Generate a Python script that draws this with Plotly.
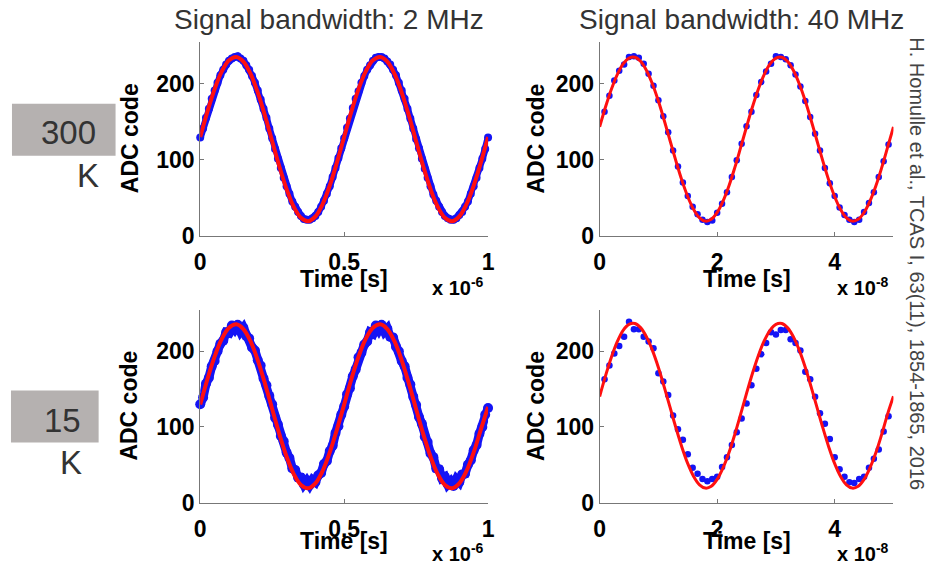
import plotly.graph_objects as go

W, H = 933, 568

# ---------------- data ----------------
# 2 MHz tone, sampled every 10 ns (indices 0..100), time in seconds
dt_2mhz = 10e-9
adc_2mhz_300k = [129, 141, 155, 167, 180, 191, 201, 211, 218, 225, 230, 233, 235, 236, 233, 230, 224, 218, 210, 201,
                 191, 179, 167, 155, 141, 128, 114, 101, 89, 76, 65, 55, 45, 38, 31, 26, 22, 21, 21, 23,
                 26, 31, 38, 46, 55, 65, 77, 89, 102, 115,
                 128, 142, 154, 168, 180, 190, 201, 210, 218, 224, 230, 234, 235, 235, 233, 229, 225, 218, 211, 201,
                 191, 180, 167, 154, 141, 127, 115, 101, 88, 76, 65, 54, 46, 38, 31, 26, 23, 21, 21, 23,
                 27, 31, 38, 45, 55, 65, 76, 89, 101, 114, 129]
adc_2mhz_15k = [130, 139, 157, 165, 180, 187, 200, 210, 214, 225, 224, 234, 229, 235, 226, 231, 220, 217, 205, 201,
                188, 181, 164, 155, 141, 130, 112, 103, 88, 81, 66, 59, 45, 43, 33, 33, 24, 29, 23, 30,
                27, 36, 39, 51, 55, 68, 75, 92, 101, 116,
                127, 143, 151, 167, 176, 192, 198, 209, 213, 225, 223, 234, 228, 235, 226, 230, 219, 218, 206, 200,
                187, 180, 165, 156, 140, 129, 113, 104, 87, 80, 65, 60, 45, 44, 32, 34, 24, 28, 22, 31,
                27, 37, 38, 50, 56, 69, 76, 91, 100, 116, 125]
# sine fits for 2 MHz, every 25 ns
dt_fit_2mhz = 25e-9
fit_2mhz_300k = [129.8, 163.1, 192.7, 216.0, 230.6, 235.0, 228.8, 212.7, 188.2, 157.7, 124.2, 91.0, 61.3, 38.0,
                 23.5, 19.0, 25.2, 41.3, 65.8, 96.3,
                 129.8, 163.1, 192.7, 216.0, 230.6, 235.0, 228.8, 212.7, 188.2, 157.7, 124.2, 91.0, 61.3, 38.0,
                 23.5, 19.0, 25.2, 41.3, 65.8, 96.3, 129.8]
fit_2mhz_15k = [129.5, 163.0, 192.8, 216.3, 231.0, 235.6, 229.3, 212.9, 188.0, 157.2, 123.6, 90.4, 60.8, 37.6,
                23.2, 18.9, 25.4, 41.7, 66.3, 96.8,
                129.5, 163.0, 192.8, 216.3, 231.0, 235.6, 229.3, 212.9, 188.0, 157.2, 123.6, 90.4, 60.8, 37.6,
                23.2, 18.9, 25.4, 41.7, 66.3, 96.8, 126.5]

# 40 MHz tone, 1.2 GS/s samples (indices 1..60)
dt_40mhz = 1e-9 / 1.2
adc_40mhz_300k = [163, 184, 204, 217, 225, 235, 236, 234, 226, 213, 197, 178, 157, 136, 112, 91, 70, 52, 38, 28,
                  21, 18, 20, 30, 42, 57, 77, 99, 121, 144,
                  163, 185, 202, 216, 226, 236, 235, 232, 224, 212, 196, 177, 156, 134, 112, 89, 69, 52, 37, 27,
                  21, 18, 21, 31, 43, 57, 77, 98, 120, 143]
adc_40mhz_15k = [163, 181, 197, 207, 219, 239, 229, 229, 219, 213, 204, 171, 160, 142, 115, 97, 83, 64, 46, 38,
                 31, 28, 31, 34, 47, 60, 76, 93, 111, 131,
                 155, 177, 196, 211, 225, 222, 228, 228, 216, 211, 201, 173, 163, 140, 118, 104, 84, 60, 44, 34,
                 27, 26, 31, 34, 46, 58, 70, 94, 114, 142]
# sine fits for 40 MHz, every 1 ns
dt_fit_40mhz = 1e-9
fit_40mhz_300k = [143.0, 169.1, 192.5, 211.8, 225.8, 233.5, 234.6, 228.9, 216.8, 199.1, 177.0, 151.4, 124.5, 97.7,
                  72.7, 51.2, 34.4, 23.5, 19.1, 21.5, 30.5, 45.5, 65.3, 89.4, 116.0,
                  143.0, 169.1, 192.5, 211.8, 225.8, 233.5, 234.6, 228.9, 216.8, 199.1, 177.0, 151.4, 124.5, 97.7,
                  72.7, 51.2, 34.4, 23.5, 19.1, 21.5, 30.5, 45.5, 65.3, 89.4, 116.0, 143.0]
fit_40mhz_15k = [140.2, 167.5, 192.1, 212.6, 227.7, 235.5, 236.6, 230.9, 218.6, 200.8, 178.5, 152.6, 125.4, 98.4,
                 73.2, 51.4, 34.5, 23.5, 19.1, 21.5, 30.6, 45.8, 65.7, 90.1, 116.9,
                 144.2, 170.5, 194.1, 213.6, 227.7, 235.5, 236.6, 230.9, 218.6, 200.8, 178.5, 152.6, 125.4, 98.4,
                 73.2, 51.4, 34.5, 23.5, 19.1, 21.5, 30.6, 45.8, 65.7, 90.1, 116.9, 140.5]

column_titles = ["Signal bandwidth: 2 MHz", "Signal bandwidth: 40 MHz"]
row_labels = [("300", "K"), ("15", "K")]
citation = "H. Homulle et al., TCAS I, 63(11), 1854-1865, 2016"
x_tick_vals_2mhz = [0, 0.5e-6, 1e-6]
x_tick_text_2mhz = ["0", "0.5", "1"]
x_tick_vals_40mhz = [0, 2e-8, 4e-8]
x_tick_text_40mhz = ["0", "2", "4"]
y_tick_vals = [0, 100, 200]
exponents = ["-6", "-8"]

# ---------------- layout helpers ----------------
# target pixel -> paper fraction (includes a small calibration for how the page is photographed)
CAL_X = (2.0, 0.99)
CAL_Y = (4.25, 0.9775)


def fx(p):
    return ((p - CAL_X[0]) / CAL_X[1]) / W


def fy(p):
    return 1 - ((p - CAL_Y[0]) / CAL_Y[1]) / H


col_px = [(197, 486), (598, 893)]
row_px = [(46, 240), (314, 507)]

BLUE = "#1414f5"
RED = "#ff1010"
FONT = "Liberation Sans, Arial, Helvetica, sans-serif"

fig = go.Figure()

panels = [
    (0, 0, adc_2mhz_300k, dt_2mhz, 0, fit_2mhz_300k, dt_fit_2mhz, 1e-6, x_tick_vals_2mhz, x_tick_text_2mhz, True),
    (0, 1, adc_40mhz_300k, dt_40mhz, 1, fit_40mhz_300k, dt_fit_40mhz, 5e-8, x_tick_vals_40mhz, x_tick_text_40mhz, False),
    (1, 0, adc_2mhz_15k, dt_2mhz, 0, fit_2mhz_15k, dt_fit_2mhz, 1e-6, x_tick_vals_2mhz, x_tick_text_2mhz, True),
    (1, 1, adc_40mhz_15k, dt_40mhz, 1, fit_40mhz_15k, dt_fit_40mhz, 5e-8, x_tick_vals_40mhz, x_tick_text_40mhz, False),
]


def ann(text, x, y, size, color="black", xanchor="center", yanchor="middle", angle=0):
    return dict(text=text, x=fx(x), y=fy(y), xref="paper", yref="paper", xanchor=xanchor, yanchor=yanchor,
                textangle=angle, showarrow=False, font=dict(family=FONT, size=size, color=color))


annotations = []
for i, (r, c, samples, dt, start, fit, fdt, xmax, tv, tt, dense) in enumerate(panels):
    n = i + 1
    xa = "x" if n == 1 else f"x{n}"
    ya = "y" if n == 1 else f"y{n}"
    ts = [(start + k) * dt for k in range(len(samples))]
    tf = [k * fdt for k in range(len(fit))]
    if dense:
        lw, ms = (7, 8) if r == 0 else (9, 10)
        fig.add_trace(go.Scatter(x=ts, y=samples, mode="lines+markers", xaxis=xa, yaxis=ya,
                                 line=dict(color=BLUE, width=lw),
                                 marker=dict(color=BLUE, size=ms),
                                 showlegend=False, cliponaxis=False))
        fig.add_trace(go.Scatter(x=tf, y=fit, mode="lines", xaxis=xa, yaxis=ya,
                                 line=dict(color=RED, width=4, shape="spline", smoothing=1.0),
                                 showlegend=False))
    else:
        fig.add_trace(go.Scatter(x=ts, y=samples, mode="markers", xaxis=xa, yaxis=ya,
                                 marker=dict(color=BLUE, size=6.5),
                                 showlegend=False, cliponaxis=False))
        fig.add_trace(go.Scatter(x=tf, y=fit, mode="lines", xaxis=xa, yaxis=ya,
                                 line=dict(color=RED, width=3, shape="spline", smoothing=1.0),
                                 showlegend=False))
    x0, x1 = col_px[c]
    y0, y1 = row_px[r]
    axis_common = dict(showline=True, linecolor="#777777", linewidth=1, ticks="inside", ticklen=4,
                       tickcolor="#777777", showgrid=False, zeroline=False,
                       tickfont=dict(family=FONT, size=23, color="black", weight="bold"))
    fig.layout[f"xaxis{n if n > 1 else ''}"] = dict(domain=[fx(x0), fx(x1)], anchor=ya, range=[0, xmax],
                                                    tickvals=tv, ticktext=tt, ticklabelstandoff=6,
                                                    **axis_common)
    fig.layout[f"yaxis{n if n > 1 else ''}"] = dict(domain=[fy(y1), fy(y0)], anchor=xa, range=[0, 255],
                                                    tickvals=y_tick_vals, ticktext=[str(v) for v in y_tick_vals],
                                                    **axis_common)
    annotations.append(ann("<b>ADC code</b>", x0 - 71 if c == 0 else x0 - 64, (y0 + y1) / 2, 23, angle=-90))
    annotations.append(ann("<b>Time [s]</b>", (x0 + x1) / 2, y1 + (43 if r == 0 else 38), 23))
    annotations.append(ann(f"<b>x 10<sup>{exponents[c]}</sup></b>", x1 - 2, y1 + (51 if r == 0 else 50), 20,
                           xanchor="right"))

# column titles
for c, title in enumerate(column_titles):
    annotations.append(ann(title, [326, 740][c], 24, 28, color="#333333"))

# row labels
row_box_px = [(8, 112, 108, 160), (7, 95, 395, 447)]
row_num_pos = [(65, 137), (59, 425)]
row_k_pos = [(84, 180), (67, 467)]
shapes = []
for r, (num, unit) in enumerate(row_labels):
    bx0, bx1, by0, by1 = row_box_px[r]
    shapes.append(dict(type="rect", xref="paper", yref="paper", x0=fx(bx0), x1=fx(bx1), y0=fy(by1), y1=fy(by0),
                       fillcolor="#b5b1b0", line=dict(width=0), layer="below"))
    annotations.append(ann(num, row_num_pos[r][0], row_num_pos[r][1], 33, color="#333333"))
    annotations.append(ann(unit, row_k_pos[r][0], row_k_pos[r][1], 33, color="#333333"))

# citation
annotations.append(ann(citation, 917, 268, 20, color="#444444", angle=90))

fig.update_layout(width=W, height=H, margin=dict(l=0, r=0, t=0, b=0), paper_bgcolor="white",
                  plot_bgcolor="white", annotations=annotations, shapes=shapes, showlegend=False)

fig.write_html("out.html", config={"displayModeBar": False},
               post_script="document.body.style.margin='0';")
